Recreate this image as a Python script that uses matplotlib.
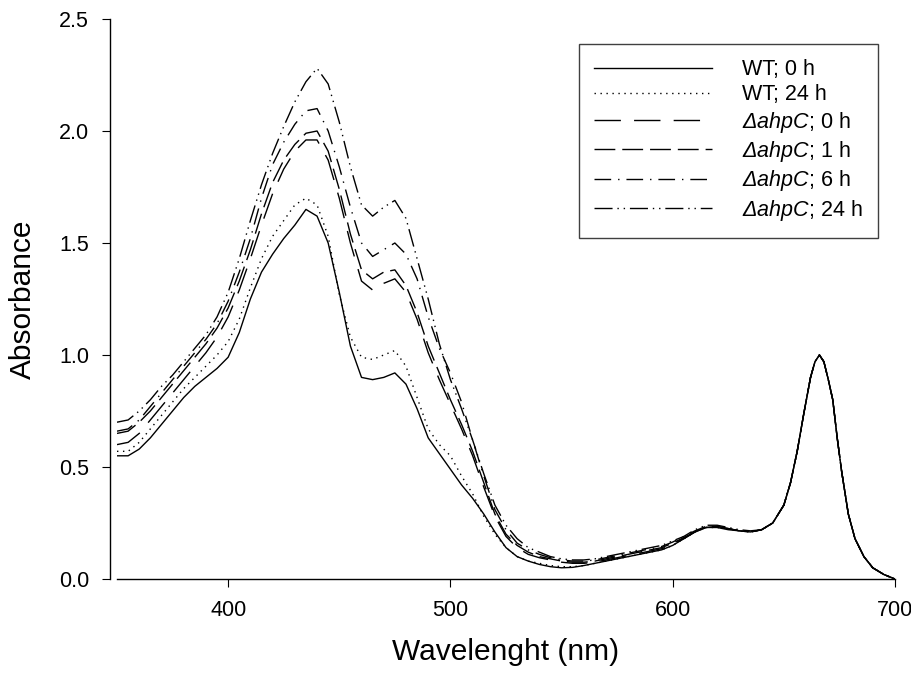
import numpy as np
import matplotlib
matplotlib.use('Agg')
from matplotlib import pyplot as plt

plt.rcParams['font.family'] = ['Liberation Sans', 'DejaVu Sans']
plt.rcParams['mathtext.fontset'] = 'custom'
plt.rcParams['mathtext.it'] = 'Liberation Sans:italic'
plt.rcParams['mathtext.rm'] = 'Liberation Sans:italic'

# wavelength grid for the part where the curves differ (nm)
wl = list(range(350, 645, 5))

wt_0h = [0.55, 0.55, 0.58, 0.63, 0.69, 0.75, 0.81, 0.86, 0.90, 0.94,
         0.99, 1.10, 1.25, 1.37, 1.45, 1.52, 1.58, 1.65, 1.62, 1.50,
         1.28, 1.04, 0.90, 0.89, 0.90, 0.92, 0.87, 0.76, 0.63, 0.56,
         0.49, 0.42, 0.36, 0.29, 0.21, 0.14, 0.10, 0.08, 0.065, 0.055,
         0.05, 0.052, 0.06, 0.07, 0.08, 0.09, 0.10, 0.11, 0.12, 0.13,
         0.15, 0.18, 0.21, 0.23, 0.23, 0.22, 0.215, 0.21, 0.22]
wt_24h = [0.57, 0.57, 0.61, 0.67, 0.73, 0.79, 0.85, 0.90, 0.95, 1.00,
          1.06, 1.16, 1.30, 1.43, 1.53, 1.60, 1.67, 1.70, 1.67, 1.53,
          1.27, 1.08, 0.99, 0.98, 1.00, 1.02, 0.95, 0.81, 0.67, 0.60,
          0.55, 0.46, 0.38, 0.28, 0.20, 0.14, 0.10, 0.08, 0.07, 0.06,
          0.055, 0.055, 0.06, 0.07, 0.08, 0.09, 0.10, 0.11, 0.12, 0.13,
          0.15, 0.18, 0.21, 0.23, 0.23, 0.225, 0.215, 0.21, 0.22]
ahpc_0h = [0.60, 0.61, 0.65, 0.71, 0.77, 0.83, 0.89, 0.95, 1.01, 1.08,
           1.17, 1.29, 1.43, 1.58, 1.72, 1.83, 1.91, 1.96, 1.96, 1.87,
           1.70, 1.50, 1.33, 1.29, 1.32, 1.34, 1.28, 1.16, 1.01, 0.89,
           0.78, 0.67, 0.55, 0.41, 0.28, 0.19, 0.14, 0.11, 0.095, 0.085,
           0.075, 0.07, 0.07, 0.075, 0.085, 0.095, 0.105, 0.115, 0.125, 0.135,
           0.155, 0.18, 0.21, 0.23, 0.235, 0.225, 0.215, 0.21, 0.22]
ahpc_1h = [0.65, 0.66, 0.70, 0.75, 0.81, 0.87, 0.93, 0.99, 1.05, 1.12,
           1.21, 1.33, 1.47, 1.63, 1.77, 1.87, 1.94, 1.99, 2.00, 1.91,
           1.74, 1.54, 1.38, 1.34, 1.37, 1.38, 1.31, 1.19, 1.04, 0.92,
           0.80, 0.69, 0.57, 0.43, 0.29, 0.20, 0.15, 0.12, 0.10, 0.09,
           0.08, 0.075, 0.075, 0.08, 0.09, 0.10, 0.11, 0.12, 0.13, 0.14,
           0.16, 0.185, 0.21, 0.23, 0.235, 0.225, 0.215, 0.21, 0.22]
ahpc_6h = [0.66, 0.67, 0.71, 0.77, 0.83, 0.89, 0.95, 1.01, 1.07, 1.14,
           1.24, 1.37, 1.52, 1.70, 1.85, 1.95, 2.03, 2.09, 2.10, 2.00,
           1.84, 1.66, 1.50, 1.44, 1.47, 1.50, 1.45, 1.34, 1.17, 1.03,
           0.92, 0.79, 0.62, 0.46, 0.31, 0.22, 0.16, 0.13, 0.11, 0.095,
           0.085, 0.08, 0.08, 0.085, 0.095, 0.105, 0.115, 0.125, 0.135, 0.145,
           0.165, 0.19, 0.215, 0.235, 0.235, 0.225, 0.215, 0.21, 0.22]
ahpc_24h = [0.70, 0.71, 0.75, 0.80, 0.86, 0.91, 0.97, 1.03, 1.09, 1.17,
            1.28, 1.43, 1.60, 1.76, 1.90, 2.02, 2.13, 2.22, 2.28, 2.21,
            2.04, 1.84, 1.67, 1.62, 1.66, 1.69, 1.61, 1.43, 1.25, 1.05,
            0.89, 0.76, 0.62, 0.47, 0.33, 0.24, 0.18, 0.14, 0.12, 0.10,
            0.09, 0.085, 0.085, 0.09, 0.10, 0.11, 0.12, 0.13, 0.14, 0.15,
            0.17, 0.19, 0.22, 0.24, 0.24, 0.23, 0.22, 0.215, 0.22]

# chlorophyll red band, the same for every sample
tail_wl = [645, 650, 653, 656, 659, 662, 664, 666, 668, 670, 672, 674,
           676, 679, 682, 686, 690, 695, 700]
tail_abs = [0.25, 0.33, 0.43, 0.57, 0.74, 0.90, 0.97, 1.00, 0.97, 0.89,
            0.80, 0.63, 0.48, 0.29, 0.18, 0.10, 0.05, 0.02, 0.0]

labels = ['WT; 0 h', 'WT; 24 h',
          r'$\mathit{\Delta ahpC}$; 0 h', r'$\mathit{\Delta ahpC}$; 1 h',
          r'$\mathit{\Delta ahpC}$; 6 h', r'$\mathit{\Delta ahpC}$; 24 h']
series = [wt_0h, wt_24h, ahpc_0h, ahpc_1h, ahpc_6h, ahpc_24h]
styles = ['-', (0, (1, 3.3)), (0, (19, 9.5)), (0, (15, 5)),
          (0, (12, 5, 1, 5)), (0, (13, 3.5, 1, 3.5, 1, 3.5))]

fig = plt.figure(figsize=(9.12, 6.78), dpi=100)
ax = fig.add_axes([117/912, 99/678, 778/912, 560/678])

for vals, lab, ls in zip(series, labels, styles):
	x = wl + tail_wl
	y = vals + tail_abs
	ax.plot(x, y, color='black', linestyle=ls, linewidth=1.0, label=lab)

ax.set_xlim(350, 700)
ax.set_ylim(0, 2.5)
ax.set_xticks([400, 500, 600, 700])
ax.set_yticks([0.0, 0.5, 1.0, 1.5, 2.0, 2.5])
ax.set_yticklabels(['0.0', '0.5', '1.0', '1.5', '2.0', '2.5'])

ax.spines['top'].set_visible(False)
ax.spines['right'].set_visible(False)
ax.spines['left'].set_position(('outward', 5))
for s in ['left', 'bottom']:
	ax.spines[s].set_linewidth(1.0)
ax.tick_params(direction='out', length=6, width=0.8, labelsize=15.5, pad=9)

ax.set_xlabel('Wavelenght (nm)', fontsize=21.5, labelpad=12)
ax.set_ylabel('Absorbance', fontsize=21.5, labelpad=16)

leg = ax.legend(loc='upper right', bbox_to_anchor=(878/912, 634/678),
                bbox_transform=fig.transFigure, borderaxespad=0,
                fontsize=15.5, handlelength=5.5, handletextpad=1.4,
                labelspacing=0.2, borderpad=0.7, fancybox=False,
                framealpha=1, edgecolor='#404040')
leg.get_frame().set_linewidth(1.0)

plt.savefig('out.png', dpi=100)
